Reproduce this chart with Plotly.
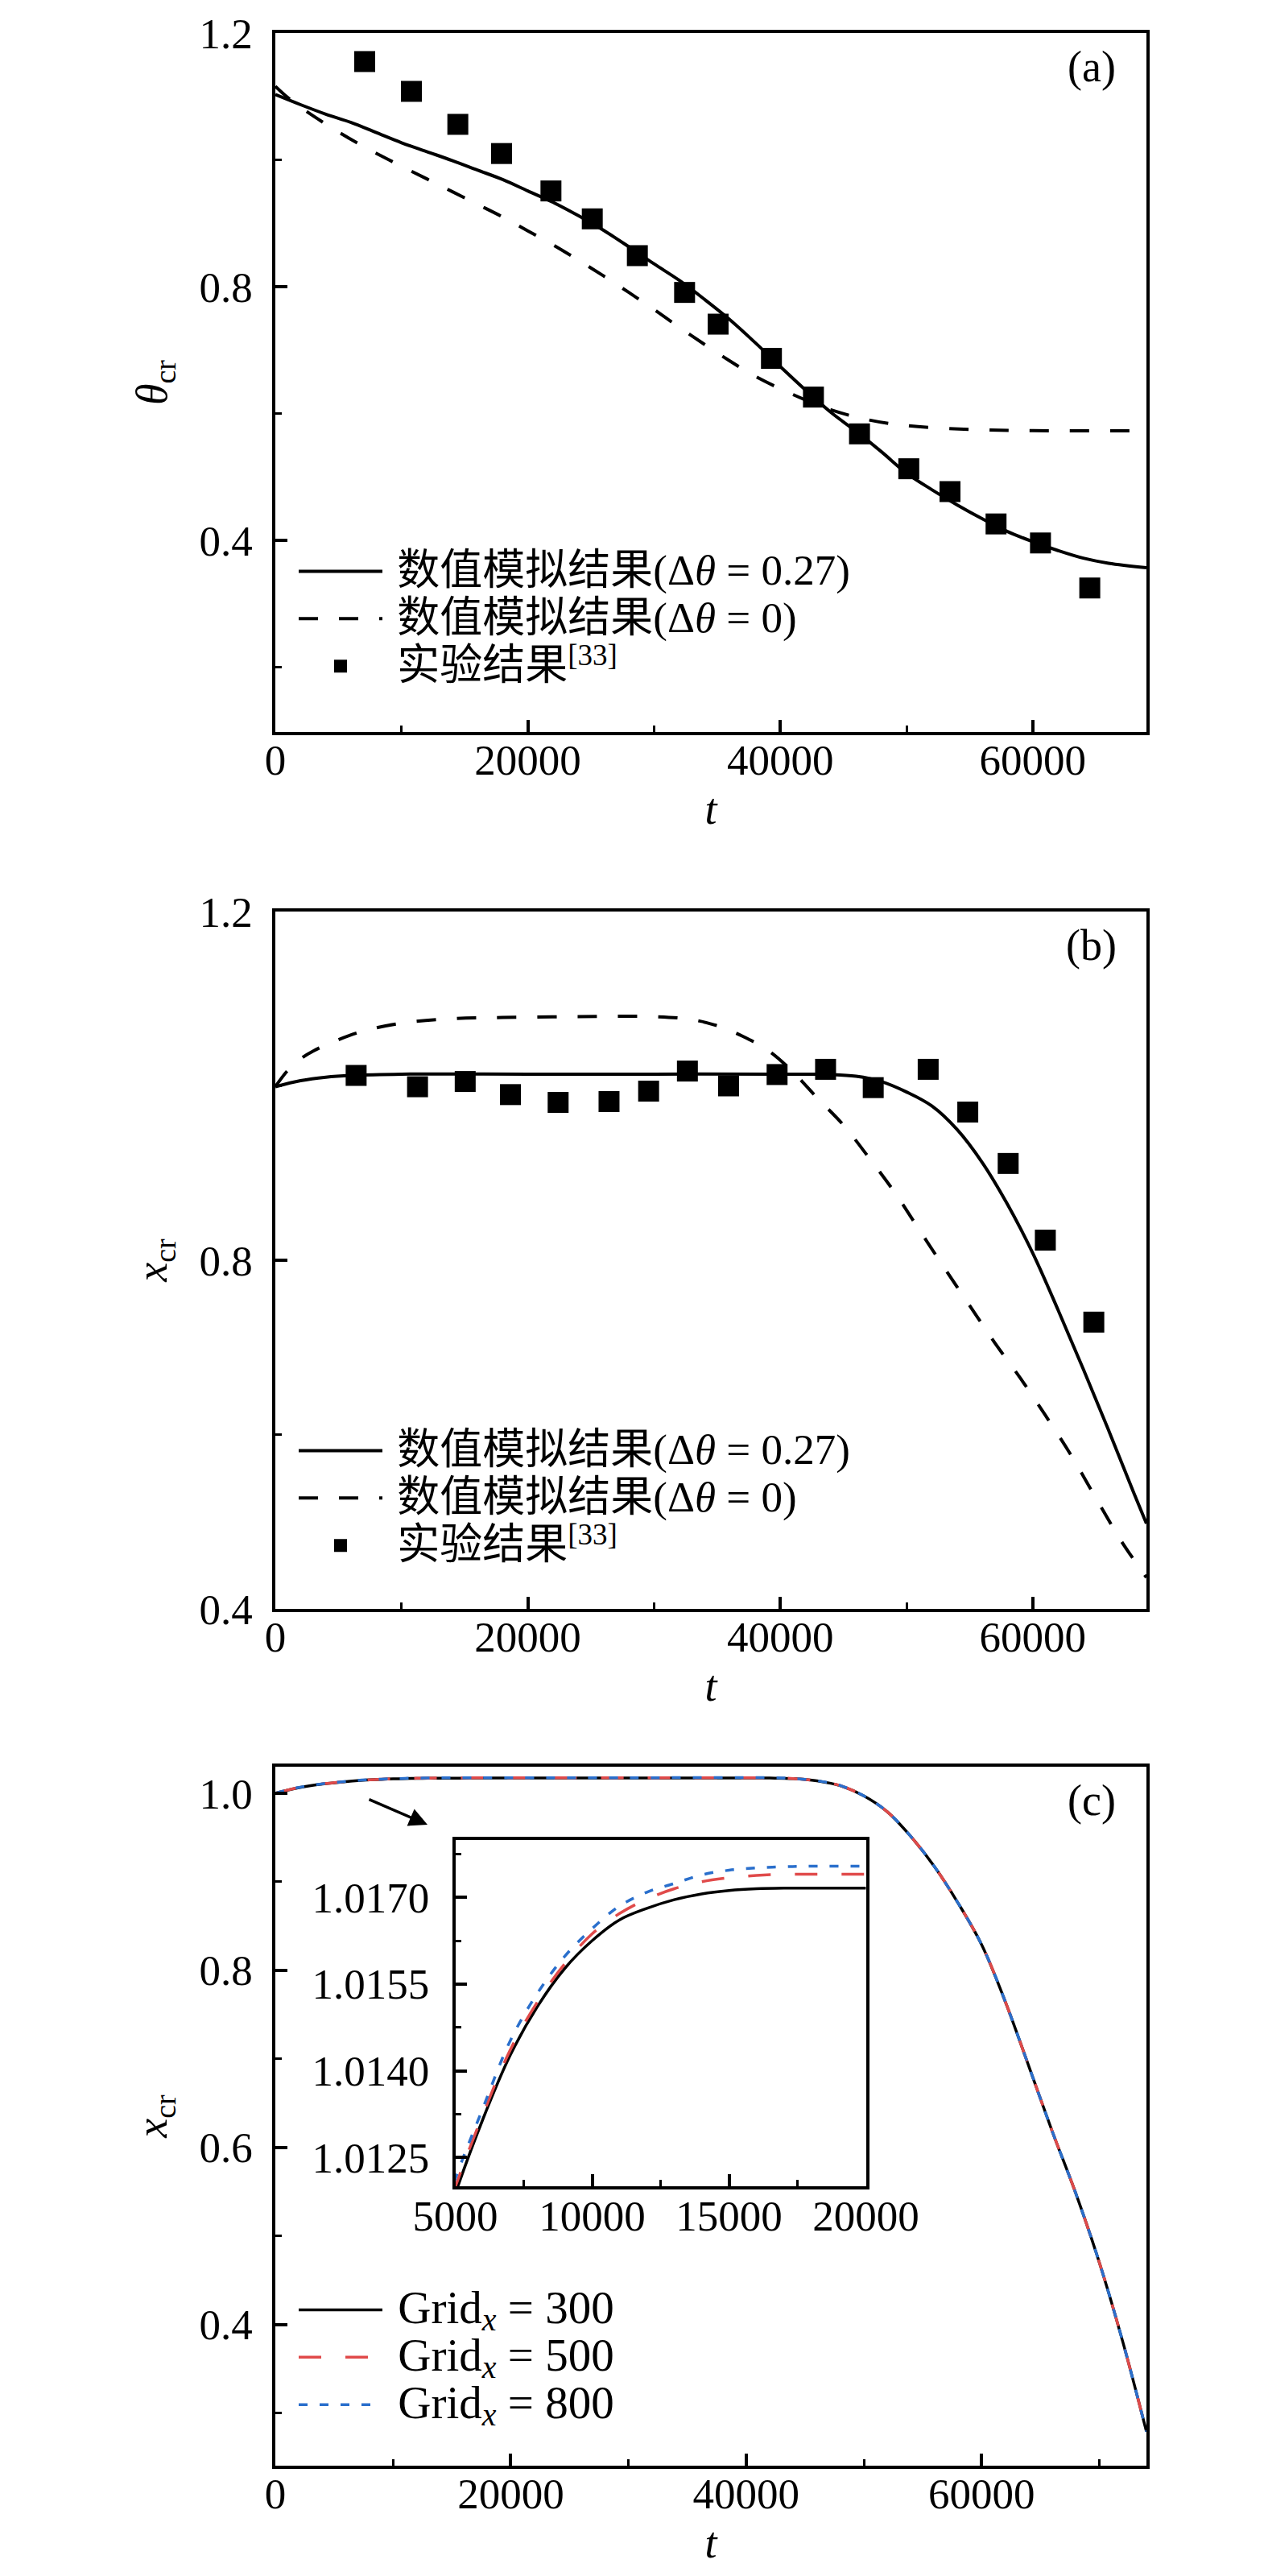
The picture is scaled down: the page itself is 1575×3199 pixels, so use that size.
import plotly.graph_objects as go

W, H = 1575, 3199
FONT = "Liberation Serif, Noto Sans CJK SC, serif"
RED = "#e04a4a"
BLUE = "#2a6fcc"

# panel (a): critical angle theta_cr
t_exp_a = [7079, 10777, 14455, 17920, 21831, 25105, 28676, 32417, 35072,
           39296, 42624, 46272, 50176, 53440, 57088, 60608, 64512]
theta_exp_a = [1.155, 1.108, 1.056, 1.010, 0.951, 0.907, 0.849, 0.791, 0.741,
               0.687, 0.626, 0.568, 0.513, 0.477, 0.426, 0.396, 0.325]

t_num_a = [0, 2000, 4000, 6000, 8000, 10000, 12000, 14000, 16000, 18000, 20000,
           22000, 24000, 26000, 28000, 30000, 32000, 34000, 36000, 38000, 40000,
           42000, 44000, 46000, 48000, 50000, 52000, 54000, 56000, 58000, 60000,
           62000, 64000, 66000, 69000]
theta_num_027 = [1.103, 1.087, 1.072, 1.059, 1.043, 1.027, 1.013, 0.999, 0.984, 0.969, 0.951,
                 0.933, 0.912, 0.889, 0.863, 0.836, 0.810, 0.780, 0.748, 0.712, 0.674,
                 0.637, 0.602, 0.572, 0.540, 0.506, 0.480, 0.456, 0.434, 0.414, 0.398,
                 0.384, 0.372, 0.364, 0.357]

t_num_a0 = [0, 1000, 2500, 5000, 7000, 9000, 12000, 14000, 16000, 18000, 20000,
            22000, 24000, 26000, 28000, 30000, 32000, 34000, 36000, 38000, 41000,
            44000, 47000, 50000, 55000, 60000, 69000]
theta_num_0 = [1.116, 1.098, 1.076, 1.044, 1.021, 1.000, 0.970, 0.950, 0.930, 0.910, 0.888,
               0.866, 0.842, 0.817, 0.791, 0.764, 0.736, 0.709, 0.683, 0.659, 0.630,
               0.606, 0.590, 0.581, 0.575, 0.573, 0.573]

# panel (b): critical position x_cr
t_exp_b = [6400, 11264, 15040, 18624, 22400, 26432, 29568, 32640, 35904,
           39744, 43584, 47360, 51712, 54848, 58048, 60992, 64832]
x_exp_b = [1.012, 0.999, 1.005, 0.990, 0.981, 0.982, 0.994, 1.017, 1.000,
           1.013, 1.019, 0.998, 1.019, 0.970, 0.911, 0.823, 0.729]

t_num_b = [0, 2000, 4000, 6000, 10000, 20000, 30000, 40000, 44000, 46000, 48000,
           50000, 52000, 54000, 56000, 58000, 60000, 62000, 64000, 66000, 68000, 69000]
x_num_027 = [0.999, 1.006, 1.010, 1.012, 1.0135, 1.0135, 1.0135, 1.0135, 1.013, 1.011, 1.005,
             0.993, 0.977, 0.950, 0.912, 0.864, 0.808, 0.743, 0.675, 0.605, 0.533, 0.498]

t_num_b0 = [0, 1000, 2000, 3000, 5000, 7000, 10000, 14000, 18000, 24000, 30000,
            33000, 35000, 37000, 39000, 41000, 43000, 45000, 47000, 49000, 51000,
            53000, 55000, 57000, 59000, 61000, 63000, 65000, 67000, 69000]
x_num_0 = [0.999, 1.018, 1.031, 1.040, 1.053, 1.063, 1.072, 1.077, 1.0785, 1.0795, 1.0795,
           1.076, 1.069, 1.057, 1.041, 1.016, 0.985, 0.955, 0.918, 0.879, 0.835,
           0.791, 0.748, 0.705, 0.665, 0.622, 0.577, 0.527, 0.478, 0.436]

# panel (c): grid independence
t_grid = [0, 1000, 2000, 3000, 4000, 5000, 6000, 7000, 8000, 9000, 10000, 11000,
          12000, 13000, 14000, 15000, 16000, 17000, 18000, 20000, 30000, 42000,
          44000, 46000, 48000, 50000, 52000, 54000, 56000, 58000, 60000, 62000,
          64000, 66000, 68000, 70000, 72000, 74000]
x_grid300 = [1.0, 1.0034, 1.0063, 1.0086, 1.0104, 1.01187, 1.01315, 1.01426, 1.01511,
             1.01577, 1.01625, 1.01661, 1.01681, 1.01696, 1.01706, 1.01712, 1.01715,
             1.01716, 1.01716, 1.01716, 1.01716, 1.01716,
             1.0165, 1.0140, 1.0085, 0.997, 0.979, 0.951, 0.917, 0.876, 0.829, 0.765,
             0.692, 0.618, 0.548, 0.470, 0.380, 0.279]
x_grid500 = [1.0, 1.0035, 1.0065, 1.0088, 1.0106, 1.01199, 1.01323, 1.01435, 1.01519,
             1.01585, 1.01637, 1.01672, 1.01697, 1.01715, 1.01727, 1.01734, 1.01738,
             1.01740, 1.01740, 1.01740, 1.01740, 1.01740,
             1.0166, 1.0141, 1.0086, 0.997, 0.979, 0.951, 0.917, 0.876, 0.829, 0.765,
             0.692, 0.618, 0.548, 0.470, 0.380, 0.279]
x_grid800 = [1.0, 1.0036, 1.0066, 1.0089, 1.0107, 1.01213, 1.01334, 1.01451, 1.01534,
             1.01598, 1.01646, 1.01685, 1.01709, 1.01724, 1.01739, 1.01747, 1.01751,
             1.01753, 1.01754, 1.01754, 1.01754, 1.01754,
             1.0167, 1.0142, 1.0087, 0.997, 0.979, 0.951, 0.917, 0.876, 0.829, 0.765,
             0.692, 0.618, 0.548, 0.470, 0.380, 0.279]
grid_sizes = [300, 500, 800]

NBSP = "\u00a0"


def big(text, size):
    return '<span style="font-size:%dpx">%s</span>' % (size, text)


label_num_027 = big(NBSP + "数值模拟结果(Δ<i>θ</i> = 0.27)", 53)
label_num_0 = big(NBSP + "数值模拟结果(Δ<i>θ</i> = 0)", 53)
label_exp = big(NBSP + "实验结果", 53) + "<sup>" + big("[33]", 37) + "</sup>"
grid_labels = [big(NBSP + "Grid", 57) + "<sub>" + big("<i>x</i>", 40) + "</sub>"
               + big(" = %d" % g, 57) for g in grid_sizes]


def px_to_paper_y(py):
    return 1 - py / H


def axis_style(rng, dtick, tick0, minor_dtick, fmt, domain, anchor, title=None):
    ax = dict(range=rng, dtick=dtick, tick0=tick0, tickformat=fmt, domain=domain,
              anchor=anchor, showline=True, mirror=True, linecolor="black", linewidth=3.5,
              ticks="inside", ticklen=15, tickwidth=3.5, tickcolor="black",
              showgrid=False, zeroline=False, automargin=False,
              tickfont=dict(family=FONT, size=53, color="black"),
              minor=dict(dtick=minor_dtick, tick0=tick0, ticks="inside", ticklen=8,
                         tickwidth=3, tickcolor="black", showgrid=False))
    if title is not None:
        ax["title"] = dict(text=title, font=dict(family=FONT, size=54, color="black"))
    return ax


fig = go.Figure()
solid = dict(color="black", width=4)
dashed = dict(color="black", width=4, dash="24px,26px")
square = dict(symbol="square", size=26, color="black")

# (a)
fig.add_trace(go.Scatter(x=t_num_a, y=theta_num_027, mode="lines", line_shape="spline",
                         line=solid, name=label_num_027, xaxis="x", yaxis="y", legend="legend"))
fig.add_trace(go.Scatter(x=t_num_a0, y=theta_num_0, mode="lines", line_shape="spline",
                         line=dashed, name=label_num_0, xaxis="x", yaxis="y", legend="legend"))
fig.add_trace(go.Scatter(x=t_exp_a, y=theta_exp_a, mode="markers", marker=square,
                         name=label_exp, xaxis="x", yaxis="y", legend="legend"))

# (b)
fig.add_trace(go.Scatter(x=t_num_b, y=x_num_027, mode="lines", line_shape="spline",
                         line=solid, name=label_num_027, xaxis="x2", yaxis="y2", legend="legend2"))
fig.add_trace(go.Scatter(x=t_num_b0, y=x_num_0, mode="lines", line_shape="spline",
                         line=dashed, name=label_num_0, xaxis="x2", yaxis="y2", legend="legend2"))
fig.add_trace(go.Scatter(x=t_exp_b, y=x_exp_b, mode="markers", marker=square,
                         name=label_exp, xaxis="x2", yaxis="y2", legend="legend2"))

# (c) main and inset
grid_series = [x_grid300, x_grid500, x_grid800]
grid_lines = [dict(color="black", width=3.5),
              dict(color=RED, width=3.5, dash="28px,30px"),
              dict(color=BLUE, width=3.5, dash="11px,15px")]
for series, line, name in zip(grid_series, grid_lines, grid_labels):
    fig.add_trace(go.Scatter(x=t_grid, y=series, mode="lines", line_shape="spline", line=line,
                             name=name, xaxis="x3", yaxis="y3", legend="legend3"))
for series, line, name in zip(grid_series, grid_lines, grid_labels):
    fig.add_trace(go.Scatter(x=t_grid, y=series, mode="lines", line_shape="spline", line=line,
                             name=name, xaxis="x4", yaxis="y4", showlegend=False))

x_main_domain = [334 / W, 1416 / W]
dom_a = [px_to_paper_y(901), px_to_paper_y(33)]
dom_b = [px_to_paper_y(1990), px_to_paper_y(1124)]
dom_c = [px_to_paper_y(3054), px_to_paper_y(2186)]
dom_inset_x = [557.5 / W, 1067.5 / W]
dom_inset_y = [px_to_paper_y(2707), px_to_paper_y(2276.5)]

t_title = "<i>t</i>"

xa = axis_style([0, 69000], 20000, 0, 10000, "d", x_main_domain, "y", t_title)
ya = axis_style([0.098, 1.2], 0.4, 0.4, 0.2, ".1f", dom_a, "x", "<i>θ</i><sub>cr</sub>")
xb = axis_style([0, 69000], 20000, 0, 10000, "d", x_main_domain, "y2", t_title)
yb = axis_style([0.4, 1.2], 0.4, 0.4, 0.2, ".1f", dom_b, "x2", "<i>x</i><sub>cr</sub>")
xc = axis_style([0, 74000], 20000, 0, 10000, "d", x_main_domain, "y3", t_title)
yc = axis_style([0.2405, 1.03], 0.2, 0.4, 0.1, ".1f", dom_c, "x3", "<i>x</i><sub>cr</sub>")
xi = axis_style([5000, 20000], 5000, 5000, 2500, "d", dom_inset_x, "y4")
yi = axis_style([1.0120, 1.0180], 0.0015, 1.0125, 0.00075, ".4f", dom_inset_y, "x4")

for ax in (xa, xb, xc):
    ax["title"]["standoff"] = 14
    ax["ticklabelstandoff"] = -14
for ax in (ya, yb, yc):
    ax["title"]["standoff"] = 24
    ax["ticklabelstandoff"] = 14
xi["ticklabelstandoff"] = -12
yi["ticklabelstandoff"] = 18

legend_common = dict(font=dict(family=FONT, size=43, color="black"), bgcolor="rgba(0,0,0,0)",
                     borderwidth=0, itemwidth=104, xanchor="left", yanchor="top",
                     tracegroupgap=0, itemclick=False)

fig.update_layout(
    width=W, height=H,
    margin=dict(l=0, r=0, t=0, b=0),
    paper_bgcolor="white", plot_bgcolor="white",
    font=dict(family=FONT, size=50, color="black"),
    xaxis=xa, yaxis=ya, xaxis2=xb, yaxis2=yb, xaxis3=xc, yaxis3=yc,
    xaxis4=xi, yaxis4=yi,
    legend=dict(x=358 / W, y=px_to_paper_y(667), **legend_common),
    legend2=dict(x=358 / W, y=px_to_paper_y(1759), **legend_common),
    legend3=dict(x=358 / W, y=px_to_paper_y(2826), **legend_common),
    showlegend=True,
)

# panel labels
for ref, lab in [("", "(a)"), ("2", "(b)"), ("3", "(c)")]:
    fig.add_annotation(text=lab, xref="x%s domain" % ref, yref="y%s domain" % ref,
                       x=0.937, y=0.952, showarrow=False, xanchor="center", yanchor="middle",
                       font=dict(family=FONT, size=54, color="black"))

# arrow pointing at the zoomed region in (c)
fig.add_annotation(x=12926, y=0.9645, xref="x3", yref="y3", ax=-74, ay=-32,
                   showarrow=True, arrowhead=2, arrowsize=1.3, arrowwidth=3.5,
                   arrowcolor="black", text="")

fig.write_html("out.html")
